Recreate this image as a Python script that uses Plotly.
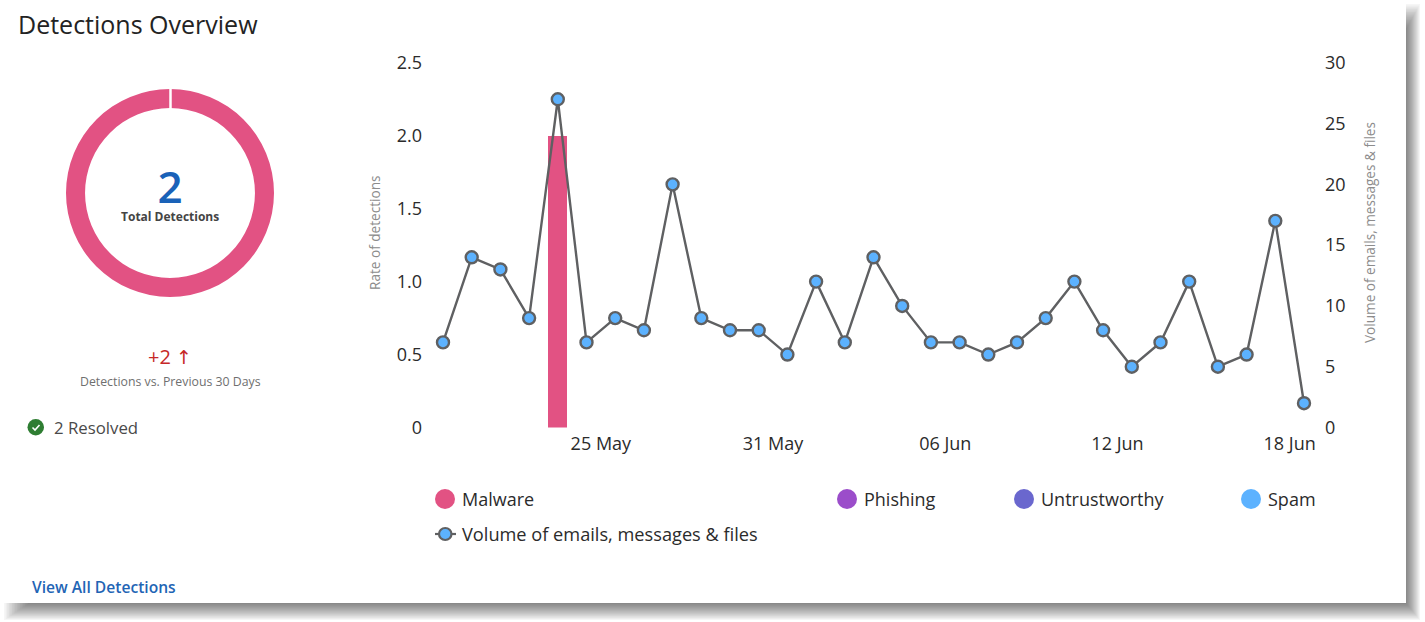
"""Detections Overview card: donut summary on the left, daily detections and volume on the right."""
import pandas as pd
import plotly.graph_objects as go

W, H = 1425, 622

# daily data
dates = pd.date_range('2024-05-20', periods=31, freq='D')
volume = [7, 14, 13, 9, 27, 7, 9, 8, 20, 9, 8, 8, 6, 12, 7, 14, 10, 7, 7, 6, 7, 9, 12, 8, 5, 7, 12, 5, 6, 17, 2]
malware = [0, 0, 0, 0, 2] + [0] * 26
phishing = [0] * 31
untrustworthy = [0] * 31
spam = [0] * 31

tick_days = ['2024-05-25', '2024-05-31', '2024-06-06', '2024-06-12', '2024-06-18']
tick_labels = ['25 May', '31 May', '06 Jun', '12 Jun', '18 Jun']
rate_ticks = [0, 0.5, 1, 1.5, 2, 2.5]
rate_labels = ['0', '0.5', '1.0', '1.5', '2.0', '2.5']
volume_ticks = [0, 5, 10, 15, 20, 25, 30]

donut_labels = ['Malware', 'Phishing', 'Untrustworthy', 'Spam']
donut_values = [2, 0, 0, 0]

PINK = '#E25283'
PURPLE = '#9B4DCA'
INDIGO = '#6A67CE'
BLUE = '#5CB2FF'
LINE = '#5F6062'
FONT = 'Open Sans'


def px(x):
    return x / W


def py(y):
    return 1 - y / H


fig = go.Figure()

# stacked bars on the rate axis
day = pd.Timedelta(days=1)
for name, vals, col in [('Malware', malware, PINK), ('Phishing', phishing, PURPLE),
                        ('Untrustworthy', untrustworthy, INDIGO), ('Spam', spam, BLUE)]:
    fig.add_trace(go.Bar(x=dates, y=vals, name=name, marker=dict(color=col, line_width=0),
                         width=0.66 * 86400000, showlegend=False))

fig.add_trace(go.Scatter(x=dates, y=volume, yaxis='y2', mode='lines+markers', showlegend=False,
                         name='Volume of emails, messages & files',
                         line=dict(color=LINE, width=2.4),
                         marker=dict(color=BLUE, size=12, line=dict(color=LINE, width=2.4))))

fig.add_trace(go.Pie(labels=donut_labels, values=donut_values, hole=0.817, sort=False,
                     direction='clockwise', textinfo='none', showlegend=False,
                     marker=dict(colors=[PINK, PURPLE, INDIGO, BLUE], line_width=0),
                     domain=dict(x=[px(66), px(274)], y=[py(297), py(89)])))

shapes = []
# card shadow, soft layers from the outside in
steps = 16
for i in range(steps):
    shapes.append(dict(type='rect', xref='paper', yref='paper', layer='below', line_width=0,
                       x0=px(4 + i * 1.6), x1=px(1420 - i * 14 / steps),
                       y0=py(620 - i * 17 / steps), y1=py(4 + i * 1.6),
                       fillcolor='rgba(0,0,0,0.036)'))
shapes.append(dict(type='rect', xref='paper', yref='paper', layer='below', line_width=0,
                   x0=px(0), x1=px(1406), y0=py(603), y1=py(0), fillcolor='white'))
# gap at the top of the donut
shapes.append(dict(type='line', xref='paper', yref='paper', x0=px(170.5), x1=px(170.5),
                   y0=py(86), y1=py(112), line=dict(color='white', width=2.5)))
# resolved icon
shapes.append(dict(type='circle', xref='paper', yref='paper', line_width=0, fillcolor='#2E7D32',
                   x0=px(27.5), x1=px(44), y0=py(435.5), y1=py(419)))
shapes.append(dict(type='path', xref='paper', yref='paper', line=dict(color='white', width=1.6),
                   path=f'M {px(32.5)} {py(427.5)} L {px(35)} {py(430)} L {px(39.5)} {py(425)}'))

annotations = []


def note(text, x, y, size, color, anchor='left', angle=0, weight=None):
    # annotations carry 2px of padding, taken off left-anchored text
    if anchor == 'left':
        x -= 2
    annotations.append(dict(text=text, x=px(x), y=py(y), xref='paper', yref='paper', showarrow=False,
                            xanchor=anchor, yanchor='middle', textangle=angle,
                            font=dict(family=FONT, size=size, color=color, weight=weight)))


note('Detections Overview', 18, 24.5, 25, '#232323')
note('<span style="font-size:44px;color:#1A62B8;font-weight:600">2</span><br>'
     '<span style="font-size:12px"><b>Total Detections</b></span>',
     170, 191, 14, '#444444', 'center')
note('+2 <span style="font-family:DejaVu Sans;font-size:19px">↑</span>', 170, 356.5, 20, '#C62828', 'center')
note('Detections vs. Previous 30 Days', 170, 381, 12.3, '#6F6F6F', 'center')
note('2 Resolved', 54, 427, 16.8, '#4A4A4A')
note('View All Detections', 32, 587, 15.6, '#1F65B5', weight=600)
note('Rate of detections', 375, 233, 13.6, '#8C8C8C', 'center', -90)
note('Volume of emails, messages & files', 1370, 233, 13.6, '#8C8C8C', 'center', -90)

# legend
legend_items = [('Malware', 445, PINK), ('Phishing', 847, PURPLE),
                ('Untrustworthy', 1024, INDIGO), ('Spam', 1251, BLUE)]
for name, cx, col in legend_items:
    shapes.append(dict(type='circle', xref='paper', yref='paper', line_width=0, fillcolor=col,
                       x0=px(cx - 10), x1=px(cx + 10), y0=py(509), y1=py(489)))
    note(name, cx + 17, 499, 18, '#2B2B2B')
shapes.append(dict(type='line', xref='paper', yref='paper', x0=px(435), x1=px(456),
                   y0=py(534), y1=py(534), line=dict(color=LINE, width=2.2)))
shapes.append(dict(type='circle', xref='paper', yref='paper', fillcolor=BLUE,
                   line=dict(color=LINE, width=2.2),
                   x0=px(439), x1=px(451.5), y0=py(540), y1=py(528)))
note('Volume of emails, messages & files', 462, 534, 18.2, '#2B2B2B')

left, right = 430, 1320
start = dates[0] + (left - 443) / 28.7 * day
end = dates[0] + (right - 443) / 28.7 * day

fig.update_layout(
    width=W, height=H, margin=dict(l=0, r=0, t=0, b=0), autosize=False,
    paper_bgcolor='white', plot_bgcolor='rgba(0,0,0,0)', barmode='stack',
    font=dict(family=FONT, size=18, color='#2B2B2B'),
    shapes=shapes, annotations=annotations,
    xaxis=dict(domain=[px(left), px(right)], range=[start, end], type='date',
               tickvals=[pd.Timestamp(d) + day / 2 for d in tick_days], ticktext=tick_labels,
               ticklabelstandoff=3,
               showgrid=False, zeroline=False, showline=False, ticks='', automargin=False),
    yaxis=dict(domain=[py(427.5), py(62.8)], range=[0, 2.5], tickvals=rate_ticks, ticktext=rate_labels,
               ticklabelstandoff=7,
               showgrid=False, zeroline=False, showline=False, ticks='', automargin=False),
    yaxis2=dict(overlaying='y', side='right', range=[0, 30], tickvals=volume_ticks,
                ticklabelstandoff=4,
                showgrid=False, zeroline=False, showline=False, ticks='', automargin=False),
)

fig.write_html("out.html", config={'displayModeBar': False},
               post_script="document.body.style.margin='0';document.body.style.overflow='hidden';")
